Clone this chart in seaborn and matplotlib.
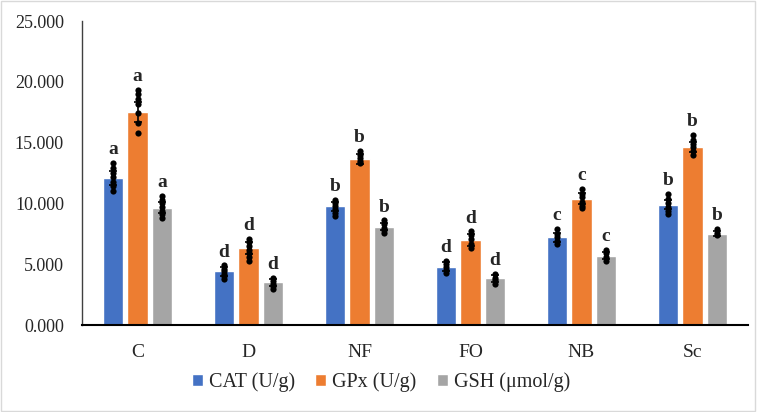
import numpy as np
import pandas as pd
import seaborn as sns
import matplotlib.pyplot as plt
from matplotlib.patches import Rectangle
from matplotlib.container import BarContainer

categories = ["C", "D", "NF", "FO", "NB", "Sc"]
series = ["CAT (U/g)", "GPx (U/g)", "GSH (μmol/g)"]

cat_values = [12.1, 4.4, 9.75, 4.8, 7.2, 9.9]
gpx_values = [17.5, 6.35, 13.65, 7.0, 10.4, 14.65]
gsh_values = [9.65, 3.5, 8.1, 3.85, 5.7, 7.5]

cat_err = [0.55, 0.35, 0.35, 0.35, 0.35, 0.4]
gpx_err = [0.8, 0.5, 0.4, 0.5, 0.45, 0.4]
gsh_err = [0.45, 0.3, 0.3, 0.3, 0.3, 0.2]

cat_points = [[13.3, 12.9, 12.5, 12.2, 11.8, 11.4, 11.0],
              [4.9, 4.6, 4.4, 4.2, 4.0, 3.8],
              [10.3, 10.0, 9.8, 9.5, 9.2, 9.0],
              [5.3, 5.0, 4.8, 4.5, 4.3],
              [7.9, 7.5, 7.2, 6.9, 6.7],
              [10.8, 10.4, 10.0, 9.7, 9.4, 9.1]]
gpx_points = [[19.3, 19.0, 18.6, 18.2, 17.4, 16.6, 15.8],
              [7.1, 6.8, 6.5, 6.2, 5.9, 5.6, 5.3],
              [14.3, 14.0, 13.7, 13.5, 13.3],
              [7.7, 7.4, 7.1, 6.7, 6.3],
              [11.2, 10.8, 10.5, 10.1, 9.8, 9.6],
              [15.6, 15.2, 14.9, 14.6, 14.3, 14.0]]
gsh_points = [[10.6, 10.3, 10.0, 9.7, 9.4, 9.1, 8.8],
              [3.9, 3.6, 3.4, 3.2, 3.0],
              [8.6, 8.3, 8.0, 7.8, 7.6],
              [4.2, 3.9, 3.7, 3.4],
              [6.2, 5.9, 5.6, 5.3],
              [7.9, 7.6, 7.4]]

cat_letters = ["a", "d", "b", "d", "c", "b"]
gpx_letters = ["a", "d", "b", "d", "c", "b"]
gsh_letters = ["a", "d", "b", "d", "c", "b"]

yticks = [0, 5, 10, 15, 20, 25]
colors = ["#4472C4", "#ED7D31", "#A5A5A5"]

values = [cat_values, gpx_values, gsh_values]
errs = [cat_err, gpx_err, gsh_err]
points = [cat_points, gpx_points, gsh_points]
letters = [cat_letters, gpx_letters, gsh_letters]

df = pd.DataFrame({
    "cat": categories * 3,
    "series": [s for s in series for _ in categories],
    "value": cat_values + gpx_values + gsh_values,
})

sns.set_style("white")
plt.rcParams["font.family"] = ["Liberation Serif", "DejaVu Serif"]

fig = plt.figure(figsize=(7.57, 4.12), dpi=100)
ax = fig.add_axes([82 / 757, 1 - 325 / 412, (748 - 82) / 757, (325 - 21) / 412])

sns.barplot(data=df, x="cat", y="value", hue="series", order=categories,
            hue_order=series, palette=colors, width=0.66, gap=0.18,
            errorbar=None, saturation=1, ax=ax)

bar_conts = [c for c in ax.containers if isinstance(c, BarContainer)]
for i, cont in enumerate(bar_conts):
    for j, bar in enumerate(cont.patches):
        xc = bar.get_x() + bar.get_width() / 2
        ax.errorbar(xc, values[i][j], yerr=errs[i][j], fmt="none",
                    ecolor="black", elinewidth=1.2, capsize=3, capthick=1.2, zorder=3)
        pts = points[i][j]
        ax.scatter([xc] * len(pts), pts, s=20, color="black", zorder=4, linewidths=0)
        top = max(max(pts), values[i][j] + errs[i][j])
        ax.text(xc, top + 0.4, letters[i][j], ha="center", va="bottom",
                fontsize=14, fontweight="bold")

ax.set_ylim(0, 25)
ax.set_xlim(-0.5, 5.5)
ax.set_yticks(yticks)
ax.set_yticklabels([f"{t:.3f}" for t in yticks], fontsize=13)
ax.tick_params(axis="y", length=0, pad=13)
ax.tick_params(axis="x", length=0, pad=14, labelsize=14)
ax.set_xlabel("")
ax.set_ylabel("")
for s in ["top", "right"]:
    ax.spines[s].set_visible(False)
ax.spines["left"].set_color("#404040")
ax.spines["left"].set_linewidth(1.0)
ax.spines["bottom"].set_color("black")
ax.spines["bottom"].set_linewidth(1.5)

handles, labels = ax.get_legend_handles_labels()
if ax.get_legend() is not None:
    ax.get_legend().remove()
fig.legend(handles, labels, loc="center", bbox_to_anchor=(0.503, 1 - 382 / 412),
           ncol=3, frameon=False, fontsize=14.5, handlelength=0.55, handleheight=0.55,
           handletextpad=0.3, columnspacing=1.0)

fig.patches.append(Rectangle((0.001, 0.002), 0.997, 0.996, transform=fig.transFigure,
                             fill=False, edgecolor="#D9D9D9", linewidth=1.0))

fig.savefig("out.png", dpi=100)
